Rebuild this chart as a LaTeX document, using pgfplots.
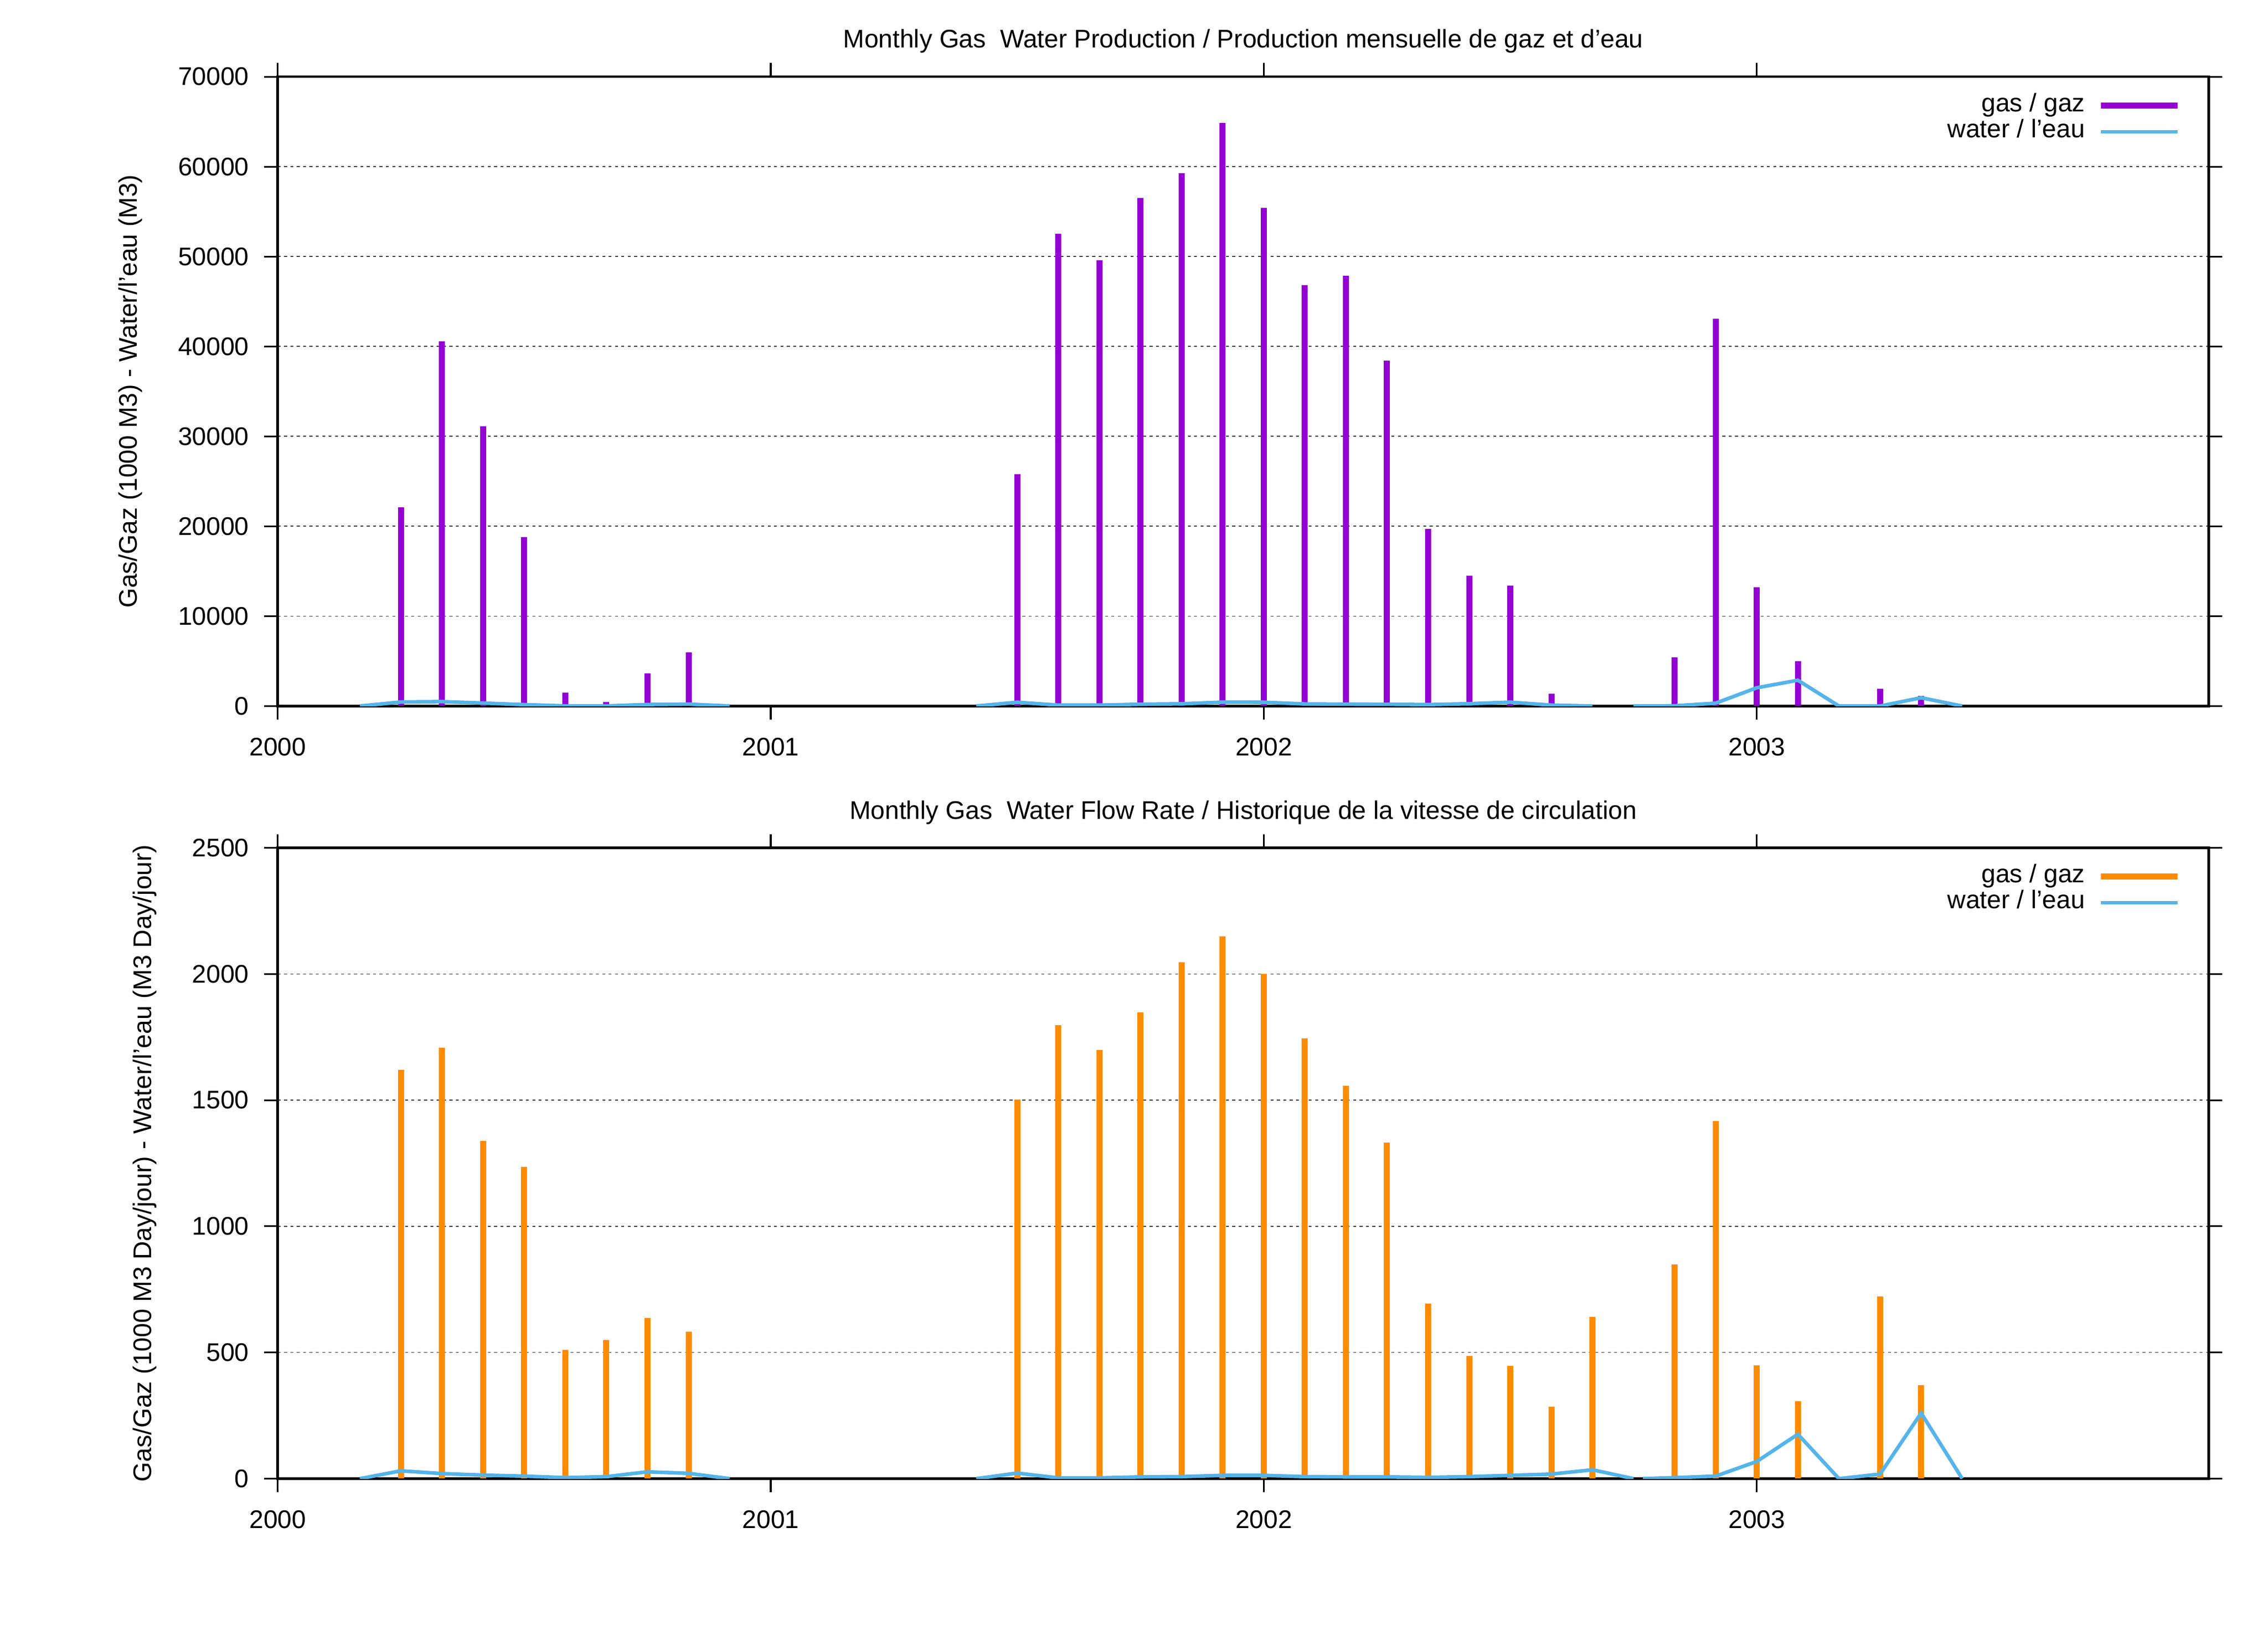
\documentclass[border=0pt]{standalone}
\usepackage{fontspec}
\setmainfont{Liberation Sans}
\usepackage{pgfplots}
\pgfplotsset{compat=1.18}
\definecolor{gascol}{HTML}{9400D3}
\definecolor{ratecol}{HTML}{FF8C00}
\definecolor{watcol}{HTML}{56B4E9}

\pgfplotstableread{
x y
3 22090
4 40570
5 31120
6 18760
7 1500
8 440
9 3670
10 5990
18 25800
19 52540
20 49580
21 56530
22 59300
23 64880
24 55400
25 46810
26 47890
27 38420
28 19700
29 14500
30 13420
31 1400
34 5450
35 43100
36 13220
37 4980
39 1920
40 1130
}\gasprod

\pgfplotstableread{
x y
2 0
3 450
4 490
5 330
6 155
7 15
8 10
9 170
10 215
11 0
nan nan
17 0
18 420
19 100
20 100
21 200
22 250
23 430
24 420
25 230
26 210
27 200
28 160
29 260
30 430
31 100
32 0
nan nan
33 0
34 25
35 320
36 2030
37 2870
38 0
39 0
40 920
41 0
}\watprod

\pgfplotstableread{
x y
3 1620
4 1708
5 1339
6 1235
7 510
8 549
9 637
10 582
18 1502
19 1797
20 1698
21 1848
22 2047
23 2149
24 2000
25 1745
26 1556
27 1332
28 693
29 486
30 447
31 285
32 641
34 848
35 1417
36 450
37 307
39 723
40 371
}\gasrate

\pgfplotstableread{
x y
2 0
3 31
4 20
5 14
6 10
7 4
8 8
9 27
10 21
11 0
nan nan
17 0
18 22
19 3
20 3
21 7
22 8
23 13
24 13
25 8
26 7
27 7
28 5
29 8
30 13
31 18
32 35
33 0
nan nan
33.23 0
34 4
35 10
36 68
37 176
38 0
39 18
40 260
41 0
}\watrate

\pgfplotsset{common/.style={
  scale only axis, width=667.5pt, height=217.5pt,
  xmin=0, xmax=47, xtick={0,12,24,36}, xticklabels={2000,2001,2002,2003},
  tick align=outside, major tick length=4.75pt,
  axis line style={line width=0.9pt},
  every tick/.style={black, line width=0.6pt},
  ymajorgrids, grid style={black!75, line width=0.3pt, dash pattern=on 1pt off 1.2pt},
  /pgf/number format/assume math mode=true,
  /pgf/number format/set thousands separator={},
  scaled y ticks=false,
  unbounded coords=jump,
  title style={at={(0.5,1)}, anchor=base, yshift=4pt, inner sep=0pt},
  xticklabel style={anchor=base, inner sep=0pt, yshift=-12.5pt},
  yticklabel style={anchor=east, inner sep=0pt, xshift=-5pt},
  legend cell align=right,
  legend plot pos=right,
  legend style={draw=none, fill=none, at={(1,1)}, anchor=north east,
    xshift=-9.5pt, yshift=-5.3pt, row sep=0pt, column sep=4.5pt, inner sep=0pt,
    nodes={inner sep=0pt, text height=6.5pt, text depth=2.5pt}},
  legend image code/.code={\draw[#1] (0pt,0pt) -- (26.5pt,0pt);},
}}

\begin{document}
\begin{tikzpicture}[font=\fontsize{8.8}{10.56}\selectfont]
\useasboundingbox (0,0) rectangle (784pt,570.5pt);
\begin{axis}[common, at={(96pt,326.5pt)}, anchor=south west,
  ymin=0, ymax=70000, ytick={0,10000,...,70000},
  title={Monthly Gas\ \ Water Production / Production mensuelle de gaz et d’eau},
  ylabel={Gas/Gaz (1000 M3) - Water/l’eau (M3)},
  ylabel style={at={(axis description cs:-0.0764,0.5)}, anchor=center, inner sep=0pt}]
\addplot[ycomb, gascol, line width=2.1pt] table {\gasprod};
\addlegendentry{gas / gaz}
\addplot[watcol, line width=1.25pt] table {\watprod};
\addlegendentry{water / l’eau}
\end{axis}
\begin{axis}[common, at={(96pt,59.5pt)}, anchor=south west, height=218pt,
  ymin=0, ymax=2500, ytick={0,500,...,2500},
  title={Monthly Gas\ \ Water Flow Rate / Historique de la vitesse de circulation},
  ylabel={Gas/Gaz (1000 M3 Day/jour) - Water/l’eau (M3 Day/jour)},
  ylabel style={at={(axis description cs:-0.0689,0.5)}, anchor=center, inner sep=0pt}]
\addplot[ycomb, ratecol, line width=2.1pt] table {\gasrate};
\addlegendentry{gas / gaz}
\addplot[watcol, line width=1.25pt] table {\watrate};
\addlegendentry{water / l’eau}
\end{axis}
\end{tikzpicture}
\end{document}
